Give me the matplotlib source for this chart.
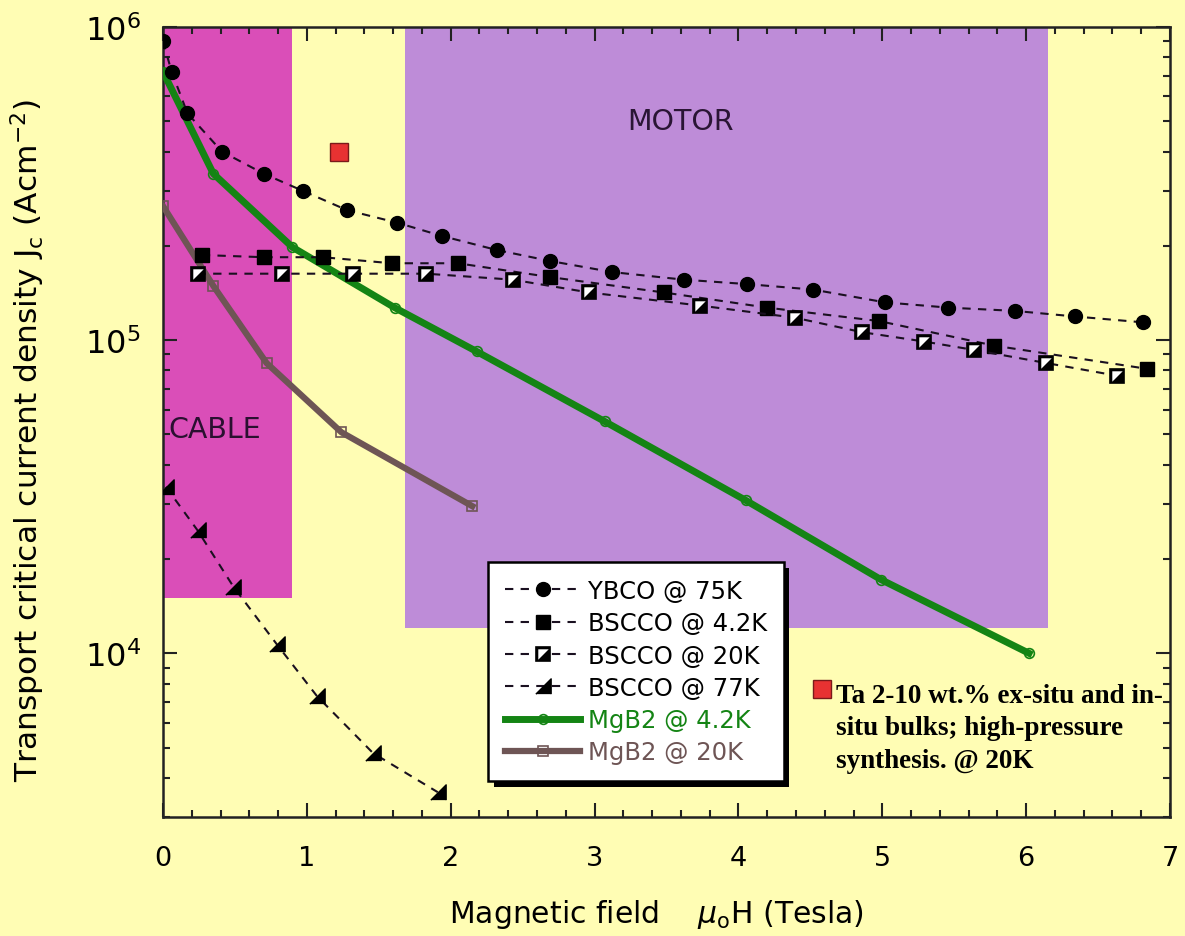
import numpy as np
import matplotlib
matplotlib.use("Agg")
import matplotlib.pyplot as plt
import matplotlib.patheffects as pe
from matplotlib.ticker import LogLocator, MultipleLocator, NullFormatter

# ---- donnees ----
ybco75_x = [0.0, 0.06, 0.17, 0.41, 0.70, 0.97, 1.28, 1.63, 1.94, 2.32, 2.69, 3.12,
            3.62, 4.06, 4.52, 5.02, 5.46, 5.92, 6.34, 6.81]
ybco75_y = [9.0e5, 7.2e5, 5.3e5, 4.0e5, 3.4e5, 3.0e5, 2.6e5, 2.37e5, 2.15e5, 1.94e5,
            1.79e5, 1.65e5, 1.56e5, 1.51e5, 1.45e5, 1.32e5, 1.27e5, 1.24e5, 1.19e5, 1.14e5]

bscco42_x = [0.27, 0.70, 1.11, 1.59, 2.05, 2.69, 3.48, 4.20, 4.98, 5.78, 6.84]
bscco42_y = [1.87e5, 1.84e5, 1.84e5, 1.76e5, 1.76e5, 1.59e5, 1.42e5, 1.27e5, 1.15e5,
             9.6e4, 8.1e4]

bscco20_x = [0.24, 0.83, 1.32, 1.83, 2.43, 2.96, 3.73, 4.39, 4.86, 5.29, 5.64, 6.14, 6.63]
bscco20_y = [1.63e5, 1.63e5, 1.63e5, 1.63e5, 1.56e5, 1.42e5, 1.29e5, 1.18e5, 1.06e5,
             9.9e4, 9.3e4, 8.45e4, 7.7e4]

bscco77_x = [0.02, 0.24, 0.49, 0.79, 1.07, 1.46, 1.91]
bscco77_y = [3.4e4, 2.47e4, 1.63e4, 1.07e4, 7.3e3, 4.8e3, 3.6e3]

mgb2_42_x = [0.0, 0.35, 0.90, 1.61, 2.18, 3.07, 4.05, 4.99, 6.02]
mgb2_42_y = [7.2e5, 3.4e5, 1.98e5, 1.27e5, 9.2e4, 5.5e4, 3.08e4, 1.72e4, 1.0e4]

mgb2_20_x = [0.0, 0.35, 0.72, 1.24, 2.15]
mgb2_20_y = [2.68e5, 1.49e5, 8.45e4, 5.08e4, 2.95e4]

ta_x = [1.22]
ta_y = [4.0e5]

# zones (x0, x1, y0, y1)
zone_cable = (0.0, 0.90, 1.5e4, 1.0e6)
zone_motor = (1.68, 6.15, 1.2e4, 1.0e6)

jaune = "#FFFDB4"
magenta = "#DA4EB8"
violet = "#BE8CD8"
vert = "#148414"
brun = "#6E5555"
rouge = "#E83232"

fig = plt.figure(figsize=(11.85, 9.37), dpi=100, facecolor=jaune)
ax = fig.add_axes([163 / 1185, 1 - 818 / 937, 1007 / 1185, 790 / 937])
ax.set_facecolor(jaune)
ax.set_yscale("log")
ax.set_xlim(0, 7)
ax.set_ylim(3e3, 1e6)

ax.fill_between([zone_cable[0], zone_cable[1]], zone_cable[2], zone_cable[3],
                color=magenta, lw=0, zorder=0)
ax.fill_between([zone_motor[0], zone_motor[1]], zone_motor[2], zone_motor[3],
                color=violet, lw=0, zorder=0)

ax.text(0.04, 5.2e4, "CABLE", fontsize=20.5, color="#2a1030", va="center", ha="left")
ax.text(3.6, 5.0e5, "MOTOR", fontsize=20.5, color="#2a1535", va="center", ha="center")

tirets = dict(color="#1a1020", lw=1.5, dashes=(4, 3.5))

l1, = ax.plot(ybco75_x, ybco75_y, marker="o", ms=10, mfc="black", mec="black",
              label="YBCO @ 75K", zorder=4, **tirets)
l2, = ax.plot(bscco42_x, bscco42_y, marker="s", ms=10, mfc="black", mec="black",
              label="BSCCO @ 4.2K", zorder=4, **tirets)
l3, = ax.plot(bscco20_x, bscco20_y, marker="s", ms=10, mfc="black", mec="black",
              mew=1.2, label="BSCCO @ 20K", zorder=4, **tirets)
# moitie blanche en haut a gauche
demi = [(-1, 1), (1, 1), (-1, -1)]
l3b, = ax.plot(bscco20_x, bscco20_y, ls="none", marker=demi, ms=7.5, mfc="white",
               mec="none", zorder=5)
tri = [(1, -1), (1, 1), (-1, -1)]
l4, = ax.plot(bscco77_x, bscco77_y, marker=tri, ms=11, mfc="black", mec="black",
              label="BSCCO @ 77K", zorder=4, **tirets)

l5, = ax.plot(mgb2_42_x, mgb2_42_y, color=vert, lw=5, marker="o", ms=7,
              mfc="none", mec=vert, mew=1.2, label="MgB2 @ 4.2K", zorder=3)
l6, = ax.plot(mgb2_20_x, mgb2_20_y, color=brun, lw=4.5, marker="s", ms=7,
              mfc="none", mec=brun, mew=1.2, label="MgB2 @ 20K", zorder=3)

ax.plot(ta_x, ta_y, ls="none", marker="s", ms=13, mfc=rouge, mec="#7a1a1a",
        mew=1, zorder=5)

# petite legende du point rouge
ax.plot([4.58], [7.7e3], ls="none", marker="s", ms=13, mfc=rouge, mec="#7a1a1a",
        mew=1, clip_on=False, zorder=5)
ax.text(4.68, 8.05e3, "Ta 2-10 wt.% ex-situ and in-\nsitu bulks; high-pressure\nsynthesis. @ 20K",
        fontsize=19.5, fontweight="bold", family="Liberation Serif", va="top", ha="left",
        linespacing=1.4, clip_on=False, zorder=6)

leg = ax.legend(handles=[l1, l2, (l3, l3b), l4, l5, l6],
                labels=["YBCO @ 75K", "BSCCO @ 4.2K", "BSCCO @ 20K", "BSCCO @ 77K",
                        "MgB2 @ 4.2K", "MgB2 @ 20K"],
                loc="upper left", bbox_to_anchor=(0.3227, 0.3228), borderaxespad=0,
                fontsize=17.5, fancybox=False, framealpha=1, edgecolor="black",
                handlelength=3.1, handletextpad=0.3, labelspacing=0.34,
                borderpad=0.7, numpoints=1)
cadre = leg.get_frame()
cadre.set_linewidth(1.8)
cadre.set_path_effects([pe.SimplePatchShadow(offset=(4, -4), shadow_rgbFace="black",
                                             alpha=1), pe.Normal()])
for txt, c in zip(leg.get_texts(), ["black"] * 4 + [vert, brun]):
    txt.set_color(c)

# axes et graduations
ax.xaxis.set_major_locator(MultipleLocator(1))
ax.xaxis.set_minor_locator(MultipleLocator(0.2))
ax.yaxis.set_major_locator(LogLocator(base=10))
ax.yaxis.set_minor_locator(LogLocator(base=10, subs=np.arange(2, 10)))
ax.yaxis.set_minor_formatter(NullFormatter())
ax.tick_params(which="both", direction="in", top=True, right=True, width=1.5,
               color="#222222")
ax.tick_params(which="major", length=10)
ax.tick_params(which="minor", length=5)
ax.tick_params(axis="x", which="major", labelsize=19.5, pad=20)
ax.tick_params(axis="y", which="major", labelsize=23, pad=16)
for s in ax.spines.values():
    s.set_linewidth(1.8)
    s.set_color("#222222")

ax.set_xlabel(r"Magnetic field    $\mu_{\mathrm{o}}$H (Tesla)", fontsize=21.5)
ax.xaxis.set_label_coords(0.49, -0.101)
ax.set_ylabel(r"Transport critical current density J$_{\mathrm{c}}$ (Acm$^{-2}$)",
              fontsize=22.5)
ax.yaxis.set_label_coords(-0.115, 0.478)

plt.savefig("out.png", dpi=100, facecolor=jaune)
plt.close("all")
